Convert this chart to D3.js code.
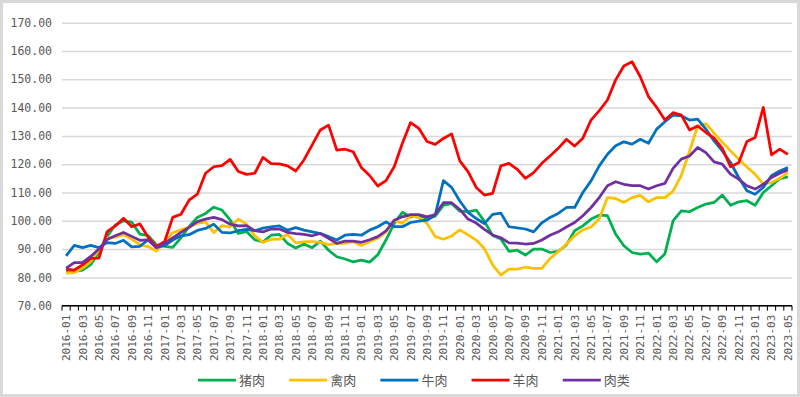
<!DOCTYPE html>
<html>
<head>
<meta charset="utf-8">
<script src="https://cdn.jsdelivr.net/npm/d3@7"></script>
<style>
  body { margin: 0; background: #fff; }
  text { fill: #595959; }
</style>
</head>
<body>
<script>
var svg_width  = 800;
var svg_height = 397;

// categories: 2016-01 .. 2023-05
var months = [];
for (var yr = 2016; yr <= 2023; yr++) {
    for (var mo = 1; mo <= 12; mo++) {
        if (yr == 2023 && mo > 5) break;
        months.push(yr + "-" + (mo < 10 ? "0" + mo : mo));
    }
}

var seriesNames  = ["猪肉", "禽肉", "牛肉", "羊肉", "肉类"];
var seriesColors = ["#00b050", "#ffc000", "#0070c0", "#ff0000", "#7030a0"];
var yTicks = [70, 80, 90, 100, 110, 120, 130, 140, 150, 160, 170];

// 猪肉
var pork = [82.1, 82.1, 82.6, 84.5, 89.0, 94.5, 98.5, 100.0, 99.5, 95.3, 94.8, 91.5,
            91.0, 90.6, 94.0, 98.0, 101.2, 102.6, 104.8, 103.8, 100.3, 95.5, 96.2, 93.3,
            92.5, 94.9, 95.2, 92.0, 90.4, 91.8, 90.5, 92.8, 89.6, 87.3, 86.5, 85.5,
            86.1, 85.4, 88.0, 93.2, 99.1, 103.0, 101.4, 101.8, 100.8, 101.6, 105.5, 106.1,
            103.4, 103.2, 103.8, 99.8, 94.8, 93.6, 89.2, 89.6, 87.9, 90.0, 90.0, 88.8,
            89.2, 91.5, 96.5, 98.2, 100.6, 102.0, 101.8, 95.3, 91.2, 88.8, 88.2, 88.6,
            85.5, 88.3, 100.0, 103.5, 103.2, 104.7, 105.9, 106.5, 109.1, 105.5, 106.7, 107.1,
            105.5, 110.0, 112.4, 114.9, 115.5];
// 禽肉
var poultry = [81.5, 81.7, 83.3, 85.6, 89.8, 93.9, 94.2, 95.1, 93.5, 91.5, 90.9, 89.3,
               92.3, 95.8, 96.8, 97.8, 99.1, 99.6, 95.8, 98.3, 97.8, 100.6, 98.8, 94.7,
               92.4, 93.4, 93.5, 95.2, 92.2, 92.6, 92.6, 92.4, 91.6, 92.0, 92.0, 92.6,
               91.3, 92.6, 93.8, 96.1, 100.2, 99.1, 101.8, 101.1, 99.1, 94.4, 93.5, 94.6,
               96.8, 95.0, 93.2, 90.2, 84.4, 80.8, 82.9, 82.9, 83.6, 83.2, 83.2, 86.7,
               89.1, 91.8, 94.7, 96.8, 97.8, 100.6, 108.2, 107.9, 106.5, 108.2, 109.0, 106.7,
               108.2, 108.2, 110.5, 116.0, 124.5, 133.5, 134.3, 131.0, 127.8, 124.7, 121.8, 119.0,
               116.5, 113.0, 113.5, 115.0, 117.0];
// 牛肉
var beef = [87.6, 91.3, 90.5, 91.3, 90.5, 92.3, 92.0, 93.1, 90.8, 91.0, 93.3, 90.6,
            91.2, 93.2, 94.7, 95.1, 96.6, 97.3, 98.8, 95.9, 95.7, 96.5, 97.0, 96.5,
            97.4, 97.9, 98.2, 96.7, 97.6, 96.7, 96.1, 95.5, 94.4, 93.2, 94.9, 95.2,
            94.9, 96.7, 97.9, 99.6, 97.9, 97.9, 99.4, 99.9, 100.2, 102.0, 114.2, 111.8,
            107.0, 103.0, 100.8, 99.0, 102.3, 102.7, 97.9, 97.5, 97.1, 96.1, 99.3, 101.2,
            102.6, 104.7, 104.7, 110.0, 114.1, 119.4, 123.5, 126.5, 127.9, 127.1, 128.8, 127.4,
            132.4, 135.0, 137.3, 137.1, 135.6, 135.9, 132.4, 128.2, 124.7, 120.6, 115.3, 110.6,
            109.4, 111.8, 115.9, 117.6, 118.8];
// 羊肉
var mutton = [82.9, 82.6, 84.4, 86.7, 86.8, 96.2, 98.2, 100.9, 97.9, 98.9, 94.2, 90.9,
              92.6, 101.2, 102.3, 107.3, 109.4, 116.8, 119.1, 119.5, 121.7, 117.4, 116.4, 116.8,
              122.4, 120.2, 120.1, 119.4, 117.6, 121.5, 126.8, 132.1, 133.8, 125.0, 125.3, 124.4,
              118.8, 116.0, 112.3, 114.2, 119.1, 127.4, 134.7, 132.7, 128.0, 127.0, 129.1, 130.7,
              121.2, 117.4, 111.8, 109.1, 109.7, 119.4, 120.3, 118.2, 115.0, 117.0, 120.3, 122.9,
              125.6, 128.8, 126.4, 129.2, 135.6, 138.9, 142.7, 149.8, 154.7, 156.2, 150.9, 143.9,
              140.1, 135.6, 138.2, 137.4, 132.1, 133.5, 131.2, 129.2, 125.6, 119.1, 120.5, 128.0,
              129.4, 140.1, 123.3, 125.3, 123.5];
// 肉类
var meat = [83.3, 85.2, 85.2, 87.4, 90.0, 93.4, 94.7, 95.9, 94.5, 93.1, 93.3, 90.5,
            92.0, 94.0, 95.9, 97.7, 99.7, 100.6, 101.2, 100.4, 98.8, 98.2, 98.3, 96.5,
            96.1, 97.1, 97.1, 95.9, 95.5, 95.2, 94.7, 95.5, 93.8, 92.0, 92.8, 92.8,
            92.4, 93.3, 94.4, 96.4, 100.2, 101.4, 102.2, 102.2, 101.4, 102.2, 106.4, 106.4,
            104.0, 100.6, 99.2, 97.0, 95.0, 94.0, 92.2, 92.1, 91.8, 92.0, 93.2, 94.9,
            96.1, 97.8, 99.4, 101.8, 104.7, 108.2, 112.4, 113.8, 112.9, 112.4, 112.4, 111.2,
            112.4, 113.2, 118.5, 121.8, 122.9, 125.9, 124.1, 120.8, 120.0, 116.5, 114.7, 112.4,
            111.2, 112.9, 115.3, 116.8, 118.0];

var seriesValues = [pork, poultry, beef, mutton, meat];

var svg = d3.select('body').append('svg')
            .attr('width', svg_width)
            .attr('height', svg_height);

svg.append("rect")
   .attr("x", 1.5).attr("y", 1.5)
   .attr("width", svg_width - 3).attr("height", svg_height - 3)
   .attr("fill", "#fff")
   .attr("stroke", "#d9d9d9")
   .attr("stroke-width", 3);

var x = d3.scaleBand()
          .domain(months)
          .range([62, 792])
          .padding(0);

var y = d3.scaleLinear()
          .domain([70, 170])
          .range([305.7, 22.7]);

var cx = d => x(d) + x.bandwidth() / 2;

// gridlines + y labels
var yAxis = d3.axisLeft(y)
              .tickValues(yTicks)
              .tickSize(-(792 - 62))
              .tickFormat(d3.format(".2f"));
var gy = svg.append("g")
            .attr("transform", "translate(62,0)")
            .call(yAxis);
gy.select(".domain").remove();
gy.selectAll(".tick line")
  .attr("stroke", "#d9d9d9")
  .attr("stroke-width", 1.5);
gy.selectAll(".tick text")
  .attr("x", -10)
  .attr("font-family", "'DejaVu Sans Mono', monospace")
  .attr("font-size", "11.5px")
  .attr("fill", "#595959");

// x axis: a tick at every band edge, label every other month
var gx = svg.append("g")
            .attr("transform", "translate(0," + y(70) + ")");
gx.append("line")
  .attr("x1", 62).attr("x2", 792)
  .attr("stroke", "#000").attr("stroke-width", 1.5);
gx.selectAll("line.tk")
  .data(months.concat(["end"]))
  .enter().append("line")
  .attr("class", "tk")
  .attr("x1", (d, i) => x.range()[0] + i * x.bandwidth())
  .attr("x2", (d, i) => x.range()[0] + i * x.bandwidth())
  .attr("y1", 0).attr("y2", 5)
  .attr("stroke", "#000").attr("stroke-width", 1);
gx.selectAll("text")
  .data(months.filter((d, i) => i % 2 == 0))
  .enter().append("text")
  .attr("transform", d => "translate(" + (cx(d) + 4) + ",9) rotate(-90)")
  .attr("text-anchor", "end")
  .attr("font-family", "'DejaVu Sans Mono', monospace")
  .attr("font-size", "11px")
  .attr("fill", "#595959")
  .text(d => d);

// lines
var line = d3.line()
             .x((d, i) => cx(months[i]))
             .y(d => y(d));

svg.append("g")
   .selectAll("path")
   .data(seriesValues)
   .enter().append("path")
   .attr("d", d => line(d))
   .attr("fill", "none")
   .attr("stroke", (d, i) => seriesColors[i])
   .attr("stroke-width", 2.75)
   .attr("stroke-linejoin", "round");

// legend
var legend = svg.append("g")
                .selectAll("g")
                .data(seriesNames)
                .enter().append("g")
                .attr("transform", (d, i) => "translate(" + (198 + i * 91.2) + ",380)");
legend.append("line")
      .attr("x1", 0).attr("x2", 38)
      .attr("stroke", (d, i) => seriesColors[i])
      .attr("stroke-width", 2.75);
legend.append("text")
      .attr("x", 41).attr("y", 4.5)
      .attr("font-family", "'Noto Sans CJK SC', sans-serif")
      .attr("font-size", "13px")
      .attr("fill", "#595959")
      .text(d => d);
</script>
</body>
</html>
